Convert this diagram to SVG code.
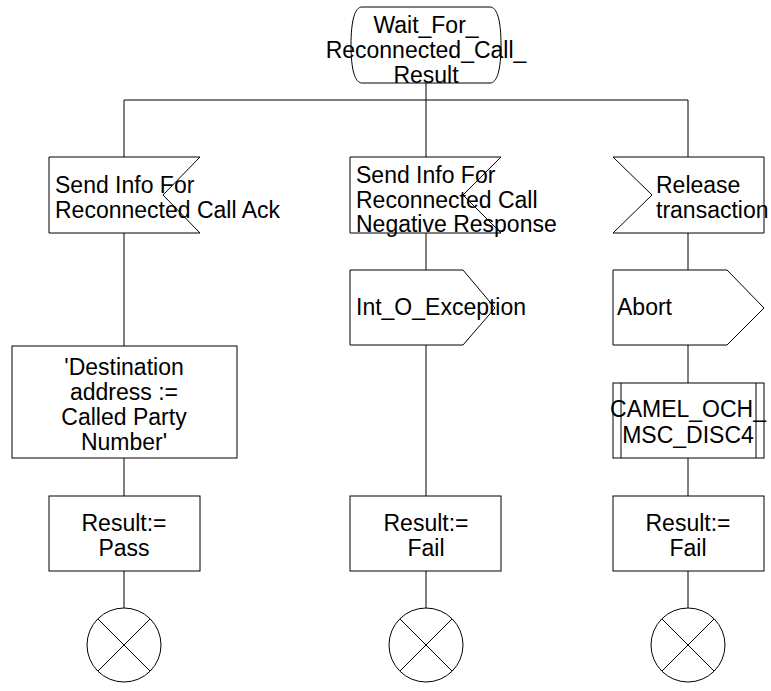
<svg xmlns="http://www.w3.org/2000/svg" width="771" height="691" viewBox="0 0 771 691">
<style>
.s{fill:#fff;stroke:#000;stroke-width:1}
.c{fill:none;stroke:#000;stroke-width:1}
text{font-family:"Liberation Sans",Arial,sans-serif;font-size:23px;fill:#000}
.m{text-anchor:middle}
</style>
<rect width="771" height="691" fill="#fff"/>
<g id="connectors">
<path class="c" d="M426,83V100M124,100H688M124,100V157M426,100V157M688,100V157"/>
<path class="c" d="M124,233V346M124,458V496M124,571V608"/>
<path class="c" d="M426,233V270M426,345V496M426,571V608"/>
<path class="c" d="M688,233V270M688,345V383M688,458V496M688,571V608"/>
</g>
<g id="state">
<path class="s" d="M362,7H490C497,7 501,20 501,45C501,70 497,83 490,83H362C355,83 351,70 351,45C351,20 355,7 362,7Z"/>
<text class="m" x="426" y="33">Wait_For_</text>
<text class="m" x="426" y="58">Reconnected_Call_</text>
<text class="m" x="426" y="83">Result</text>
</g>
<g id="in1">
<path class="s" d="M49,157H200L163,195L200,233H49Z"/>
<text x="55" y="193">Send Info For</text>
<text x="55" y="218">Reconnected Call Ack</text>
</g>
<g id="in2">
<path class="s" d="M350,157H501L463,195L501,233H350Z"/>
<text x="356" y="183">Send Info For</text>
<text x="356" y="208">Reconnected Call</text>
<text x="356" y="232">Negative Response</text>
</g>
<g id="in3">
<path class="s" d="M613,157H764V233H613L652,195Z"/>
<text x="656" y="193">Release</text>
<text x="656" y="218">transaction</text>
</g>
<g id="out1">
<path class="s" d="M350,270H463L495,308L463,345H350Z"/>
<text x="356" y="315">Int_O_Exception</text>
</g>
<g id="out2">
<path class="s" d="M613,270H727L764,308L727,345H613Z"/>
<text x="617" y="315">Abort</text>
</g>
<g id="task1">
<rect class="s" x="12" y="346" width="225" height="112"/>
<text class="m" x="124" y="375">'Destination</text>
<text class="m" x="124" y="400">address :=</text>
<text class="m" x="124" y="425">Called Party</text>
<text class="m" x="124" y="450">Number'</text>
</g>
<g id="proc">
<rect class="s" x="613" y="383" width="151" height="75"/>
<path class="c" d="M621,383V458M756,383V458"/>
<text class="m" x="688" y="417">CAMEL_OCH_</text>
<text class="m" x="688" y="443">MSC_DISC4</text>
</g>
<g id="res1">
<rect class="s" x="49" y="496" width="151" height="75"/>
<text class="m" x="124" y="531">Result:=</text>
<text class="m" x="124" y="556">Pass</text>
</g>
<g id="res2">
<rect class="s" x="350" y="496" width="151" height="75"/>
<text class="m" x="426" y="531">Result:=</text>
<text class="m" x="426" y="556">Fail</text>
</g>
<g id="res3">
<rect class="s" x="613" y="496" width="151" height="75"/>
<text class="m" x="688" y="531">Result:=</text>
<text class="m" x="688" y="556">Fail</text>
</g>
<g id="stop1">
<circle class="s" cx="124" cy="645" r="37"/>
<path class="c" d="M98,619L150,671M150,619L98,671"/>
</g>
<g id="stop2">
<circle class="s" cx="426" cy="645" r="37"/>
<path class="c" d="M400,619L452,671M452,619L400,671"/>
</g>
<g id="stop3">
<circle class="s" cx="688" cy="645" r="37"/>
<path class="c" d="M662,619L714,671M714,619L662,671"/>
</g>
</svg>
